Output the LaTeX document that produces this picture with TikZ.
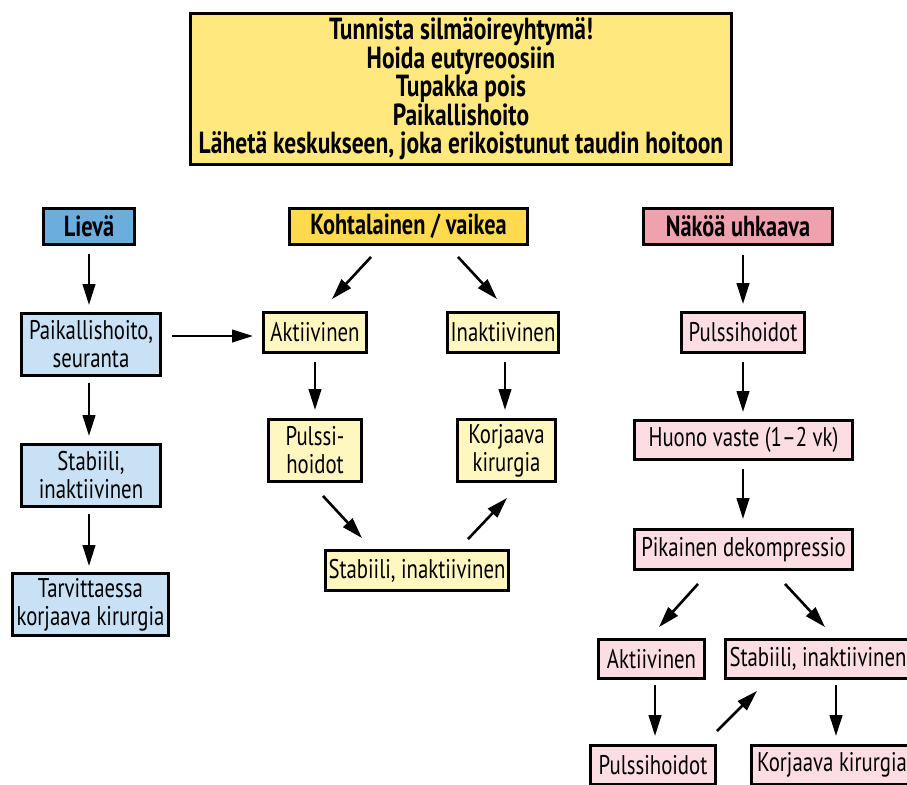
\documentclass[tikz,border=0pt]{standalone}
\usepackage{fontspec}
\setmainfont{PT Sans}[FakeStretch=0.77]
\usetikzlibrary{arrows.meta,calc}
\definecolor{topY}{HTML}{FFE97F}
\definecolor{hdrY}{HTML}{FFD94E}
\definecolor{litY}{HTML}{FFF6C0}
\definecolor{hdrB}{HTML}{6BAEDD}
\definecolor{litB}{HTML}{C9E1F5}
\definecolor{hdrP}{HTML}{F0A1AE}
\definecolor{litP}{HTML}{FCDDE4}
\tikzset{
  bx/.style args={#1/#2}{draw=black, line width=2.9pt, inner sep=0pt, align=center,
    minimum width=#1, minimum height=#2, font=\fontsize{27}{28}\selectfont},
  hdr/.style={font=\bfseries\fontsize{29}{30}\selectfont},
  arr/.style={line width=2.6pt, -{Triangle[length=21pt,width=12.5pt]}},
}
\begin{document}
\begin{tikzpicture}[x=1pt,y=-1pt]
\useasboundingbox (0,0) rectangle (907,784);
\clip (0,0) rectangle (907,784);
% top
\node[bx=541/151, fill=topY, font=\bfseries\fontsize{30.5}{28.5}\selectfont] (top) at (461,89)
  {Tunnista silmäoireyhtymä!\\Hoida eutyreoosiin\\Tupakka pois\\Paikallishoito\\Lähetä keskukseen, joka erikoistunut taudin hoitoon};
% headers
\node[bx=91/36, fill=hdrB, hdr] (lieva) at (89,226.5) {Lievä};
\node[bx=238/36, fill=hdrY, hdr] (koh) at (408.5,226.5) {Kohtalainen / vaikea};
\node[bx=189/36, fill=hdrP, hdr] (nako) at (738,226.5) {Näköä uhkaava};
% left
\node[bx=139/62, fill=litB] (paik) at (91,344.5) {Paikallishoito,\\seuranta};
\node[bx=139/62, fill=litB] (stabL) at (91,475.5) {Stabiili,\\inaktiivinen};
\node[bx=156/62, fill=litB] (tarv) at (90.5,604.5) {Tarvittaessa\\korjaava kirurgia};
% middle
\node[bx=103/40, fill=litY] (aktM) at (315,332.5) {Aktiivinen};
\node[bx=111/40, fill=litY] (inakM) at (503,332.5) {Inaktiivinen};
\node[bx=93/62, fill=litY] (pulsM) at (315,450.5) {Pulssi-\\hoidot};
\node[bx=98/62, fill=litY] (korjM) at (506.5,450.5) {Korjaava\\kirurgia};
\node[bx=183/40, fill=litY] (stabM) at (417,570.5) {Stabiili, inaktiivinen};
% right
\node[bx=123/40, fill=litP] (pulsR) at (743,332.5) {Pulssihoidot};
\node[bx=218/39, fill=litP] (huono) at (743.5,440) {Huono vaste (1–2 vk)};
\node[bx=218/40, fill=litP] (pik) at (743.5,549.5) {Pikainen dekompressio};
\node[bx=106/39, fill=litP] (aktR) at (651.5,659) {Aktiivinen};
\node[bx=185/39, fill=litP] (stabR) at (818,659) {Stabiili, inaktiivinen};
\node[bx=125/39, fill=litP] (pulsRb) at (653,765) {Pulssihoidot};
\node[bx=161/39, fill=litP] (korjR) at (832,765) {Korjaava kirurgia};
% arrows left
\draw[arr] ($(lieva.south)+(0,8)$) -- ($(paik.north)+(-2,-7)$);
\draw[arr] ($(paik.south)+(-2,6)$) -- ($(stabL.north)+(-2,-7)$);
\draw[arr] ($(stabL.south)+(-2,6)$) -- ($(tarv.north)+(-1.5,-6)$);
\draw[arr] ($(paik.east)+(10,-8.5)$) -- ($(aktM.west)+(-9,3.5)$);
% arrows middle
\draw[arr] ($(koh.south)+(-37.5,11)$) -- ($(aktM.north)+(17,-12)$);
\draw[arr] ($(koh.south)+(49.5,11)$) -- ($(inakM.north)+(-6,-12)$);
\draw[arr] ($(aktM.south)+(0,8)$) -- ($(pulsM.north)+(0,-8)$);
\draw[arr] ($(inakM.south)+(2,8)$) -- ($(korjM.north)+(-1.5,-8)$);
\draw[arr] ($(pulsM.south)+(8,13)$) -- ($(stabM.north)+(-55,-11)$);
\draw[arr] ($(stabM.north)+(51,-10)$) -- ($(korjM.south)+(0.5,15)$);
% arrows right
\draw[arr] ($(nako.south)+(5,9)$) -- ($(pulsR.north)+(0,-7)$);
\draw[arr] ($(pulsR.south)+(0,8)$) -- ($(huono.north)+(-0.5,-7)$);
\draw[arr] ($(huono.south)+(-0.5,8)$) -- ($(pik.north)+(-0.5,-9)$);
\draw[arr] ($(pik.south)+(-45.5,13)$) -- ($(aktR.north)+(7.5,-11)$);
\draw[arr] ($(pik.south)+(41.5,13)$) -- ($(stabR.north)+(7,-11)$);
\draw[arr] ($(aktR.south)+(3.5,5)$) -- ($(pulsRb.north)+(2,-8)$);
\draw[arr] ($(pulsRb.north)+(64,-13)$) -- ($(stabR.south)+(-61,11)$);
\draw[arr] ($(stabR.south)+(18,5)$) -- ($(korjR.north)+(4,-8)$);
\end{tikzpicture}
\end{document}
